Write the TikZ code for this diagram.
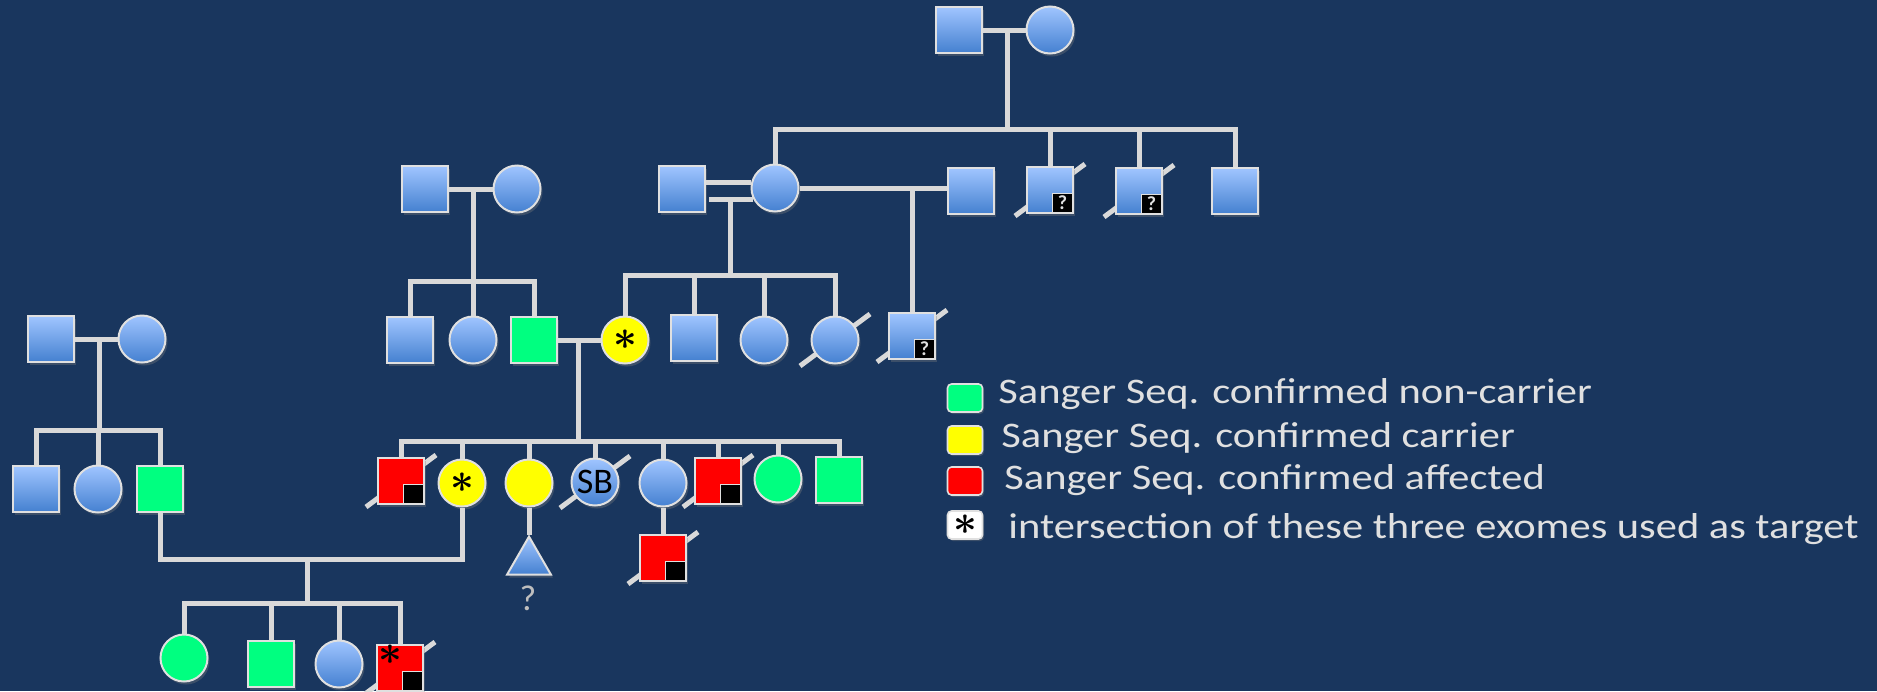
\documentclass[tikz,border=0pt]{standalone}
\usepackage{fontspec}
\setmainfont{Carlito}
\newfontfamily\keyfont[FakeStretch=1.18]{Carlito}
\usetikzlibrary{positioning,shapes.geometric,backgrounds,shadows}

\definecolor{bgblue}{RGB}{25,54,94}
\definecolor{lnk}{RGB}{217,217,217}
\definecolor{rim}{RGB}{224,224,224}
\definecolor{hiblue}{RGB}{160,197,255}
\definecolor{loblue}{RGB}{68,128,208}
\definecolor{ncgreen}{RGB}{0,255,128}
\definecolor{cryellow}{RGB}{255,255,0}
\definecolor{afred}{RGB}{255,0,0}
\definecolor{qgray}{RGB}{190,190,190}

\begin{document}
\begin{tikzpicture}[
		x=0.5pt, y=-0.5pt
		,p/.style={draw=rim, line width=1pt, inner sep=0pt, drop shadow={shadow xshift=1pt, shadow yshift=-1.5pt, opacity=.35}}
		,sq/.style={p, rectangle, minimum size=23pt}
		,ci/.style={p, circle, minimum size=23.5pt}
		,tri/.style={p, regular polygon, regular polygon sides=3, minimum size=25.4pt}
		,pl/.style={top color=hiblue, bottom color=loblue}
		,nc/.style={fill=ncgreen}
		,cr/.style={fill=cryellow}
		,af/.style={fill=afred}
		,ln/.style={draw=lnk, line width=2.5pt}
		,slash/.style={draw=lnk, line width=2.5pt}
		,qb/.style={draw=rim, line width=.6pt, fill=black, text=rim, inner sep=0pt, minimum width=10pt, minimum height=9.5pt, anchor=south east, font=\bfseries\fontsize{10}{10}\selectfont}
		,st/.style={font=\fontsize{21}{21}\selectfont\boldmath}
		,key/.style={draw=rim, line width=.8pt, rounded corners=2pt, minimum width=17.5pt, minimum height=14pt, inner sep=0pt, drop shadow={shadow xshift=.8pt, shadow yshift=-1pt, opacity=.35}}
		,lbl/.style={text=rim, font=\keyfont\fontsize{18}{18}\selectfont, anchor=base west, inner sep=0pt}
	]
		\useasboundingbox (0,0) rectangle (1877,691);

		% grandparents on the right
		\node[sq, pl] (gf1) at (959,30) {};
		\node[ci, pl] (gm1) at (1050,30) {};

		\node[ci, pl] (m2) at (775,188) {};
		\node[sq, pl] (h1) at (682,189) {};
		\node[sq, pl] (h2) at (971,191) {};
		\node[sq, pl] (u1) at (1050,190) {};
		\node[sq, pl] (u2) at (1139,191) {};
		\node[sq, pl] (u3) at (1235,191) {};

		\node[ci, cr, st] (y1) at (625,340) {$\ast$};
		\node[sq, pl] (s1) at (694,338) {};
		\node[ci, pl] (c1) at (764,340) {};
		\node[ci, pl] (c2) at (835,340) {};
		\node[sq, pl] (d1) at (912,336) {};

		% grandparents in the middle
		\node[sq, pl] (g2f) at (425,189) {};
		\node[ci, pl] (g2m) at (517,189) {};
		\node[sq, pl] (b1) at (410,340) {};
		\node[ci, pl] (b2) at (473,340) {};
		\node[sq, nc] (b3) at (534,340) {};

		% sibship of the index couple
		\node[sq, af] (k1) at (401,481) {};
		\node[ci, cr, st] (k2) at (462,483) {$\ast$};
		\node[ci, cr] (k3) at (529,483) {};
		\node[ci, pl, font=\fontsize{18}{18}\selectfont] (k4) at (595,482) {SB};
		\node[ci, pl] (k5) at (663,483) {};
		\node[sq, af] (k6) at (718,481) {};
		\node[ci, nc] (k7) at (778,479) {};
		\node[sq, nc] (k8) at (839,480) {};
		\node[tri, pl] (t1) at (529,562) {};
		\node[text=qgray, font=\fontsize{18}{18}\selectfont] (q1) at (528,598) {?};
		\node[sq, af] (k9) at (663,558) {};

		% family on the left
		\node[sq, pl] (a1) at (51,339) {};
		\node[ci, pl] (a2) at (142,339) {};
		\node[sq, pl] (a3) at (36,489) {};
		\node[ci, pl] (a4) at (98,489) {};
		\node[sq, nc] (a5) at (160,489) {};

		\node[ci, nc] (e1) at (184,658) {};
		\node[sq, nc] (e2) at (271,664) {};
		\node[ci, pl] (e3) at (339,664) {};
		\node[sq, af] (e4) at (400,668) {};

		\foreach \p in {k1,k6,k9,e4}
			\node[qb] (\p-q) at ([shift={(-1,-1)}]\p.south east) {};
		\foreach \p in {u1,u2,d1}
			\node[qb] (\p-q) at ([shift={(-1,-1)}]\p.south east) {?};
		\node[st] (e4-s) at ([shift={(-10,-13)}]e4.center) {$\ast$};

		% lines of descent
		\coordinate (sb1) at (1007,129);
		\draw[ln] (gf1) -- (gm1);
		\draw[ln] (sb1 |- gm1) -- (sb1);
		\draw[ln] (m2.north) |- (sb1) -| (u3.north);
		\foreach \k in {u1,u2}
			\draw[ln] (\k.north) -- (\k.north |- sb1);

		\coordinate (sb2) at (730,275);
		\draw[ln] (m2.168) -- (m2.168 -| h1.east);
		\draw[ln] (m2.208) -- ([xshift=1.5pt]m2.208 -| h1.east);
		\draw[ln] (sb2 |- m2.208) -- (sb2);
		\draw[ln] (y1.north) |- (sb2) -| (c2.north);
		\foreach \k in {s1,c1}
			\draw[ln] (\k.north) -- (\k.north |- sb2);

		\draw[ln] (m2.east) -- (h2.west |- m2.east);
		\draw[ln] (d1.north) -- (d1.north |- m2.east);

		\coordinate (sb3) at (473,281);
		\draw[ln] (g2f) -- (g2m);
		\draw[ln] (sb3 |- g2m) -- (sb3);
		\draw[ln] (b1.north) |- (sb3) -| (b3.north);
		\draw[ln] (b2.north) -- (b2.north |- sb3);

		\coordinate (sb4) at (578,441);
		\draw[ln] (b3) -- (y1);
		\draw[ln] (sb4 |- y1) -- (sb4);
		\draw[ln] (k1.north) |- (sb4) -| (k8.north);
		\foreach \k in {k2,k3,k4,k5,k6,k7}
			\draw[ln] (\k.north) -- (\k.north |- sb4);
		\draw[ln] (k3.south) -- (t1.corner 1);
		\draw[ln] (k5.south) -- (k9.north);

		\coordinate (sb5) at (99,430);
		\draw[ln] (a1) -- (a2);
		\draw[ln] (sb5 |- a2) -- (sb5);
		\draw[ln] (a3.north) |- (sb5) -| (a5.north);
		\draw[ln] (a4.north) -- (a4.north |- sb5);

		\coordinate (mj) at (307,559);
		\coordinate (sb6) at (307,603);
		\draw[ln] (a5.south) |- (k2.south |- mj) -- (k2.south);
		\draw[ln] (mj) -- (sb6);
		\draw[ln] (e1.north) |- (sb6) -| (e4.north);
		\foreach \k in {e2,e3}
			\draw[ln] (\k.north) -- (\k.north |- sb6);

		% key
		\node[key, fill=ncgreen] (key1) at (965,398) {};
		\node[key, fill=cryellow] (key2) at (965,440) {};
		\node[key, fill=afred] (key3) at (965,481) {};
		\node[key, fill=white, st] (key4) at (965,525) {$\ast$};
		\node[lbl] (txt1) at (998,403) {Sanger Seq. confirmed non-carrier};
		\node[lbl] (txt2) at (1001,447) {Sanger Seq. confirmed carrier};
		\node[lbl] (txt3) at (1004,489) {Sanger Seq. confirmed affected};
		\node[lbl] (txt4) at (1008,538) {intersection of these three exomes used as target};

		\begin{scope}[on background layer]
			\fill[bgblue] (0,0) rectangle (1877,691);
			% deceased marks
			\foreach \p in {u1,u2,d1,c2,k1,k4,k6,k9,e4}
				\draw[slash] ([shift={(-35,26)}]\p.center) -- ([shift={(35,-26)}]\p.center);
		\end{scope}
	\end{tikzpicture}
\end{document}
